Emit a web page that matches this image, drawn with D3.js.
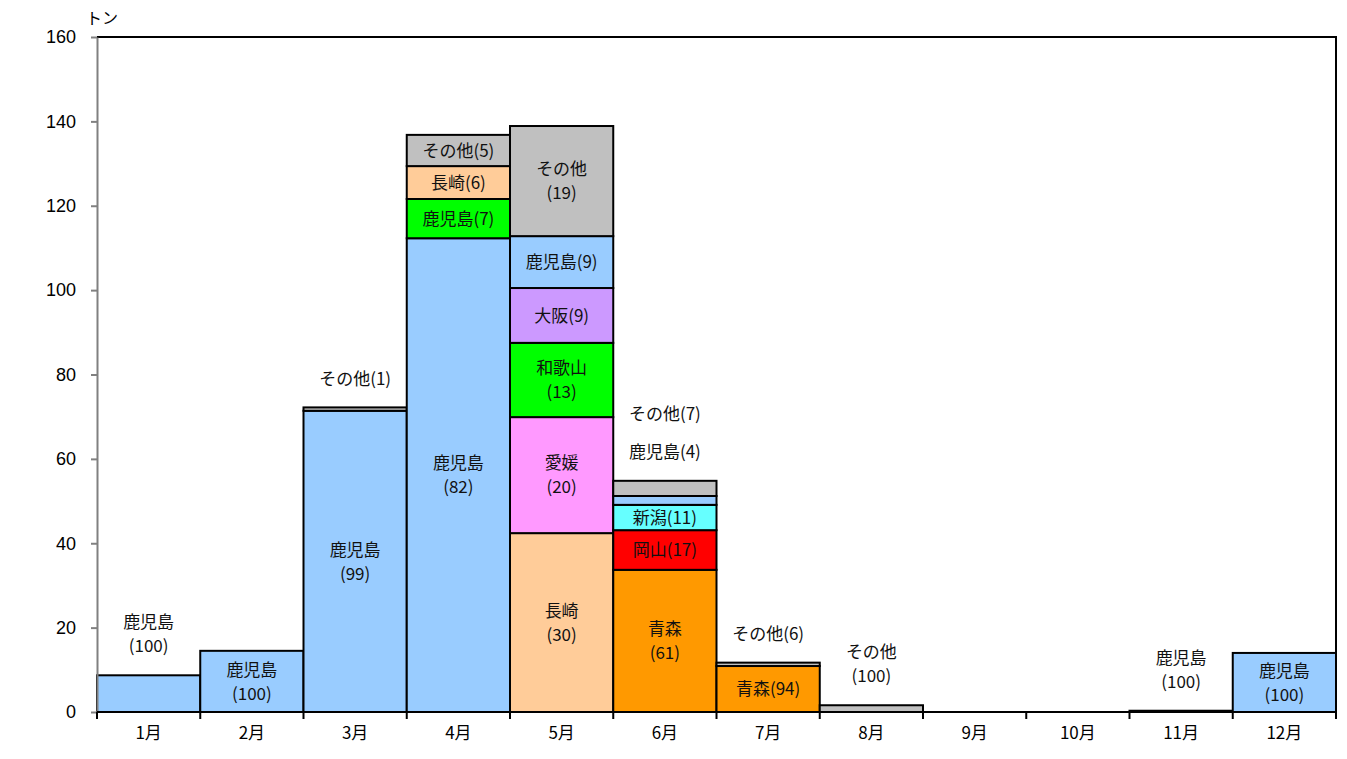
<!DOCTYPE html>
<html><head><meta charset="utf-8">
<script src="https://cdn.jsdelivr.net/npm/d3@7"></script>
<style>
html,body{margin:0;padding:0;background:#fff;}
svg{display:block;}
</style></head>
<body>
<svg id="chart" width="1347" height="759"></svg>
<script>
const months = ["1月","2月","3月","4月","5月","6月","7月","8月","9月","10月","11月","12月"];
const yTicks = [0,20,40,60,80,100,120,140,160];
const unitLabel = "トン";

// stacked segments, bottom to top within each month
const segMonth = ["1月","2月","3月","3月","4月","4月","4月","4月","5月","5月","5月","5月","5月","5月","6月","6月","6月","6月","6月","7月","7月","8月","11月","12月"];
const segName  = ["鹿児島","鹿児島","鹿児島","その他","鹿児島","鹿児島","長崎","その他","長崎","愛媛","和歌山","大阪","鹿児島","その他","青森","岡山","新潟","鹿児島","その他","青森","その他","その他","鹿児島","鹿児島"];
const segValue = [8.7,14.5,71.4,0.8,112.3,9.3,7.8,7.4,42.4,27.5,17.6,13.0,12.3,26.1,33.7,9.4,6.0,2.1,3.6,10.9,0.8,1.6,0.3,14.0];
const segShare = [100,100,99,1,82,7,6,5,30,20,13,9,9,19,61,17,11,4,7,94,6,100,100,100];
const segGroup = ["A","A","A","G","A","B","C","G","C","D","B","E","A","G","F","H","I","A","G","F","G","G","A","A"];

const palette = {A:"#99CCFF",B:"#00FF00",C:"#FFCC99",D:"#FF99FF",E:"#CC99FF",F:"#FF9900",G:"#C0C0C0",H:"#FF0000",I:"#66FFFF"};

const svg = d3.select("#chart");
const L=97,R=1336,T=37,B=712;
const x = d3.scaleBand().domain(months).range([L,R]).paddingInner(0).paddingOuter(0);
const y = d3.scaleLinear().domain([0,160]).range([B,T]);
const cjk = "'Noto Sans CJK JP','Noto Sans',sans-serif";

const segs = [];
const base = {};
segMonth.forEach((m,i)=>{
  const y0 = base[m]||0, y1 = y0+segValue[i];
  base[m]=y1;
  segs.push({m,name:segName[i],v:segValue[i],share:segShare[i],g:segGroup[i],y0,y1});
});

svg.append("path").attr("d",`M${L},${T}H${R}V${B}`).attr("fill","none").attr("stroke","#000").attr("stroke-width",2);

svg.append("g").selectAll("rect").data(segs).join("rect")
  .attr("x",d=>x(d.m)).attr("width",x.bandwidth())
  .attr("y",d=>y(d.y1)).attr("height",d=>y(d.y0)-y(d.y1))
  .attr("fill",d=>palette[d.g]).attr("stroke","#000").attr("stroke-width",2);

const ya = svg.append("g").attr("transform",`translate(${L},0)`)
  .call(d3.axisLeft(y).tickValues(yTicks).tickSize(6).tickPadding(15).tickSizeOuter(0));
ya.select(".domain").attr("stroke","#808080").attr("stroke-width",2);
ya.selectAll(".tick line").attr("stroke","#808080").attr("stroke-width",2);
ya.selectAll(".tick text").attr("font-family","'Liberation Sans',Arial,sans-serif").attr("font-size",18).attr("fill","#000");

const bounds = months.map(m=>x(m)).concat([R]);
svg.append("line").attr("x1",L).attr("x2",R).attr("y1",B).attr("y2",B).attr("stroke","#000").attr("stroke-width",2);
svg.append("g").selectAll("line").data(bounds).join("line")
  .attr("x1",d=>d).attr("x2",d=>d).attr("y1",B).attr("y2",B+7).attr("stroke","#000").attr("stroke-width",2);
svg.append("g").selectAll("text").data(months).join("text")
  .attr("x",d=>x(d)+x.bandwidth()/2).attr("y",B+27).attr("text-anchor","middle")
  .attr("font-family",cjk).attr("font-size",17).text(d=>d);

svg.append("text").attr("x",86).attr("y",24).attr("font-family",cjk).attr("font-size",16).text(unitLabel);

const lg = svg.append("g").attr("font-family",cjk).attr("font-size",17).attr("fill","#111").attr("text-anchor","middle");
const outsideCount = {};
segs.forEach(d=>{
  const h = y(d.y0)-y(d.y1);
  const cx = x(d.m)+x.bandwidth()/2;
  const two = d.share===100 || h>=57;
  const lines = two ? [d.name,`(${d.share})`] : [`${d.name}(${d.share})`];
  let centers;
  if(h >= lines.length*26-4){
    const c = (y(d.y0)+y(d.y1))/2;
    centers = lines.length===2 ? [c-12,c+12] : [c];
  } else {
    const top = y(base[d.m]);
    const k = outsideCount[d.m]||0;
    outsideCount[d.m]=k+1;
    const bottomC = top-29-k*38;
    centers = lines.length===2 ? [bottomC-24,bottomC] : [bottomC];
  }
  lines.forEach((t,i)=>{
    lg.append("text").attr("x",cx).attr("y",centers[i]).attr("dy","0.36em").text(t);
  });
});
</script>
</body></html>
